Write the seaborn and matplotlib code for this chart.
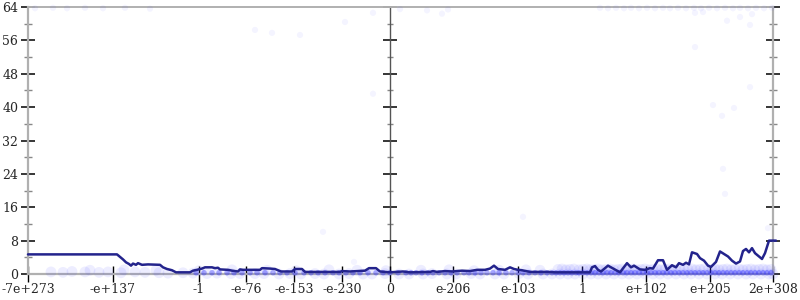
import matplotlib
matplotlib.use("Agg")
import matplotlib.pyplot as plt
import seaborn as sns
import pandas as pd
from matplotlib.ticker import MultipleLocator, FixedLocator

# x axis: position in float bit order (0 = most negative, 745 = largest)
tick_pos = [0, 85, 171, 218, 266, 314, 362, 425, 490, 554, 618, 682, 745]
tick_labels = ["-7e+273", "-e+137", "-1", "-e-76", "-e-153", "-e-230", "0",
               "e-206", "e-103", "1", "e+102", "e+205", "2e+308"]
zero_pos = 362

# running line
line_x = [0, 89, 92, 95, 98, 101, 103, 105, 108, 110, 114, 120, 132, 135, 139, 144, 148,
          162, 165, 169, 174, 177, 184, 187, 190, 192, 200, 204, 210, 212, 215, 232, 234,
          242, 247, 253, 264, 267, 274, 277, 312, 314, 322, 337, 341, 348, 352, 362, 375,
          382, 402, 405, 409, 417, 424, 434, 442, 449, 457, 462, 466, 470, 477, 482, 486,
          490, 494, 502, 520, 527, 562, 564, 567, 570, 573, 580, 586, 592, 599, 603, 606,
          612, 617, 622, 625, 630, 635, 639, 644, 648, 651, 655, 658, 661, 664, 669, 672,
          676, 680, 683, 688, 692, 696, 700, 704, 708, 712, 715, 718, 721, 724, 727, 731,
          734, 737, 741, 748]
line_y = [4.7, 4.7, 4.1, 3.5, 2.8, 2.4, 2.0, 2.5, 2.2, 2.6, 2.2, 2.3, 2.2, 1.6, 1.2, 0.9, 0.4,
          0.4, 0.8, 1.0, 1.3, 1.6, 1.6, 1.4, 1.5, 1.1, 1.0, 0.8, 0.6, 1.1, 1.0, 1.0, 1.4,
          1.3, 1.2, 0.6, 0.6, 1.2, 1.2, 0.5, 0.5, 0.7, 0.6, 0.8, 1.4, 1.4, 0.6, 0.4, 0.6,
          0.4, 0.5, 0.7, 0.5, 0.7, 0.6, 0.8, 0.7, 1.0, 1.0, 1.3, 2.0, 1.2, 1.0, 1.6, 1.2,
          1.0, 0.9, 0.5, 0.5, 0.4, 0.4, 1.6, 1.9, 1.0, 0.6, 2.0, 1.2, 0.4, 2.6, 1.6, 2.0,
          1.1, 1.0, 1.4, 1.3, 3.3, 3.3, 1.0, 2.1, 1.6, 2.6, 2.2, 2.7, 2.3, 5.2, 4.8, 3.8,
          3.2, 2.0, 1.7, 2.9, 5.4, 4.8, 4.2, 3.2, 2.5, 3.0, 5.5, 6.0, 5.2, 6.2, 5.0, 4.2,
          3.6, 5.0, 8.0, 8.0]

# individual samples near zero
band0_x = [23, 35, 44, 57, 71, 80, 93, 107, 117, 131, 140, 155, 165, 179, 189, 203, 212,
           227, 236, 251, 262, 273, 287, 296, 311, 321, 335, 344, 357, 371, 381, 395, 404,
           419, 428, 443, 452, 467, 476, 491, 500, 515, 524, 532, 540, 547, 555, 563, 570,
           578, 586, 594, 601, 609, 617, 625, 632, 640, 648, 656, 663, 671, 679, 687, 694,
           702, 710, 718, 725, 733, 741, 745]
band0_y = [0.5, 0.4, 0.6, 0.5, 0.4, 0.5, 0.3, 0.5, 0.4, 0.3, 0.2, 0.3, 0.2, 0.1, 0.2, 0.1,
           0.1, 0.1, 0.1, 0.0, 0.1, 0.0, 0.1, 0.0, 0.0, 0.1, 0.0, 0.0, 0.1, 0.0, 0.0, 0.0,
           0.1, 0.0, 0.0, 0.1, 0.0, 0.0, 0.0, 0.1, 0.0, 0.0, 0.0, 0.0, 0.0, 0.0, 0.0, 0.0,
           0.0, 0.0, 0.0, 0.0, 0.0, 0.0, 0.0, 0.0, 0.0, 0.0, 0.0, 0.0, 0.0, 0.0, 0.0, 0.0,
           0.0, 0.0, 0.0, 0.0, 0.0, 0.0, 0.0, 0.0]
band1_x = [62, 96, 128, 171, 204, 239, 268, 301, 329, 358, 393, 421, 446, 471, 498, 512,
           530, 534, 538, 542, 546, 551, 555, 559, 562, 566, 570, 574, 578, 582, 586, 590,
           594, 598, 601, 605, 609, 613, 617, 621, 625, 629, 633, 637, 641, 644, 648, 652,
           656, 660, 664, 668, 672, 676, 680, 684, 687, 691, 695, 699, 703, 707, 711, 715,
           719, 723, 727, 731, 735, 739, 743]
band1_y = [0.9, 1.0, 0.9, 0.8, 1.0, 0.9, 0.8, 1.0, 0.9, 0.8, 0.9, 1.0, 0.8, 0.9, 1.0, 0.9,
           1.1, 1.2, 1.0, 1.1, 1.2, 1.0, 1.1, 1.2, 1.0, 1.1, 1.2, 1.0, 1.1, 1.2, 1.0, 1.1,
           1.2, 1.0, 1.1, 1.2, 1.0, 1.1, 1.2, 1.0, 1.1, 1.2, 1.0, 1.1, 1.2, 1.0, 1.1, 1.2,
           1.0, 1.1, 1.2, 1.0, 1.1, 1.2, 1.0, 1.1, 1.2, 1.0, 1.1, 1.2, 1.0, 1.1, 1.2, 1.0,
           1.1, 1.2, 1.0, 1.1, 1.2, 1.0, 1.1]
# samples at zero
zero_x = [168, 176, 184, 191, 199, 206, 214, 222, 229, 237, 245, 252, 259, 267, 276, 283,
          290, 297, 305, 311, 318, 325, 332, 340, 348, 355, 362, 370, 378, 383, 388, 394,
          400, 405, 411, 417, 423, 429, 436, 441, 447, 453, 459, 465, 471, 478, 484, 490,
          495, 501, 507, 513, 519, 524, 528, 532, 536, 540, 544, 548, 551, 555, 559, 563,
          567, 571, 575, 579, 583, 587, 591, 595, 599, 603, 607, 611, 615, 619, 623, 627,
          631, 635, 639, 643, 647, 651, 655, 659, 663, 667, 671, 675, 679, 683, 687, 691,
          695, 699, 703, 707, 711, 715, 719, 723, 727, 731, 735, 739, 743]
zero_y = [0.3] * len(zero_x)
# other samples
sparse_x = [7, 25, 39, 57, 75, 97, 122, 345, 372, 399, 414, 420, 572, 580, 588, 596, 603,
            611, 619, 627, 635, 642, 650, 658, 666, 673, 681, 689, 697, 705, 712, 720, 728,
            736, 744, 667, 675, 227, 244, 272, 317, 345, 667, 685, 706, 694, 695, 697, 740,
            699, 712, 722, 722, 724, 295, 326, 495]
sparse_y = [63.7, 63.8, 63.7, 63.8, 63.7, 63.8, 63.6, 62.6, 63.5, 63.2, 62.4, 63.4, 63.8,
            63.7, 63.8, 63.7, 63.8, 63.7, 63.8, 63.7, 63.8, 63.7, 63.8, 63.7, 63.8, 63.7,
            63.8, 63.7, 63.8, 63.7, 63.8, 63.7, 63.8, 63.7, 63.8, 62.6, 62.8, 58.5, 57.8,
            57.3, 60.4, 43.2, 54.4, 40.5, 39.8, 37.9, 25.2, 19.2, 11.0, 60.7, 61.6, 59.7,
            44.8, 62.3, 10.1, 2.9, 13.7]

sns.set_style("white")
plt.rcParams["font.family"] = ["DejaVu Serif"]

fig = plt.figure(figsize=(8, 3), dpi=100)
ax = fig.add_axes([28 / 800, 26 / 300, 745 / 800, 267 / 300])

pts = pd.DataFrame({"x": band0_x + band1_x, "y": band0_y + band1_y})
sns.scatterplot(data=pts, x="x", y="y", ax=ax, color="#3a3aff", alpha=0.09, s=60,
                edgecolor="none", clip_on=False, zorder=3)
zp = pd.DataFrame({"x": zero_x, "y": zero_y})
sns.scatterplot(data=zp, x="x", y="y", ax=ax, color="#1f1fff", alpha=0.35, s=16,
                edgecolor="none", clip_on=False, zorder=3)
sp = pd.DataFrame({"x": sparse_x, "y": sparse_y})
sns.scatterplot(data=sp, x="x", y="y", ax=ax, color="#3030ff", alpha=0.05, s=20,
                edgecolor="none", clip_on=False, zorder=3)
ln = pd.DataFrame({"x": line_x, "y": line_y})
sns.lineplot(data=ln, x="x", y="y", ax=ax, color="#23238c", linewidth=1.8,
             clip_on=False, zorder=4)

ax.set_xlim(tick_pos[0], tick_pos[-1])
ax.set_ylim(0, 64)
ax.set_xlabel("")
ax.set_ylabel("")

ax.xaxis.set_major_locator(FixedLocator(tick_pos))
ax.set_xticklabels(tick_labels, fontsize=9)
ax.yaxis.set_major_locator(MultipleLocator(8))
ax.yaxis.set_minor_locator(MultipleLocator(4))
ax.tick_params(axis="y", which="major", direction="inout", length=10, width=1.1,
               color="black", labelsize=9, left=True, right=True, pad=2)
ax.tick_params(axis="y", which="minor", direction="inout", length=6, width=1,
               color="#888888", left=True, right=True)
ax.tick_params(axis="x", which="major", direction="inout", length=11, width=1,
               color="black", bottom=True, pad=1)

for side in ["left", "right", "top", "bottom"]:
    ax.spines[side].set_color("#b0b0b0")
    ax.spines[side].set_linewidth(1.6)
ax.spines["top"].set_linewidth(1.4)

# middle axis at zero
mid = ax.secondary_yaxis(zero_pos / tick_pos[-1])
mid.spines["left"].set_color("#555555")
mid.spines["left"].set_linewidth(1.0)
mid.yaxis.set_major_locator(MultipleLocator(8))
mid.yaxis.set_minor_locator(MultipleLocator(4))
mid.tick_params(which="major", direction="inout", length=10, width=1.1, color="black",
                labelleft=False)
mid.tick_params(which="minor", direction="inout", length=5, width=1, color="#888888")

fig.savefig("out.png", dpi=100)
